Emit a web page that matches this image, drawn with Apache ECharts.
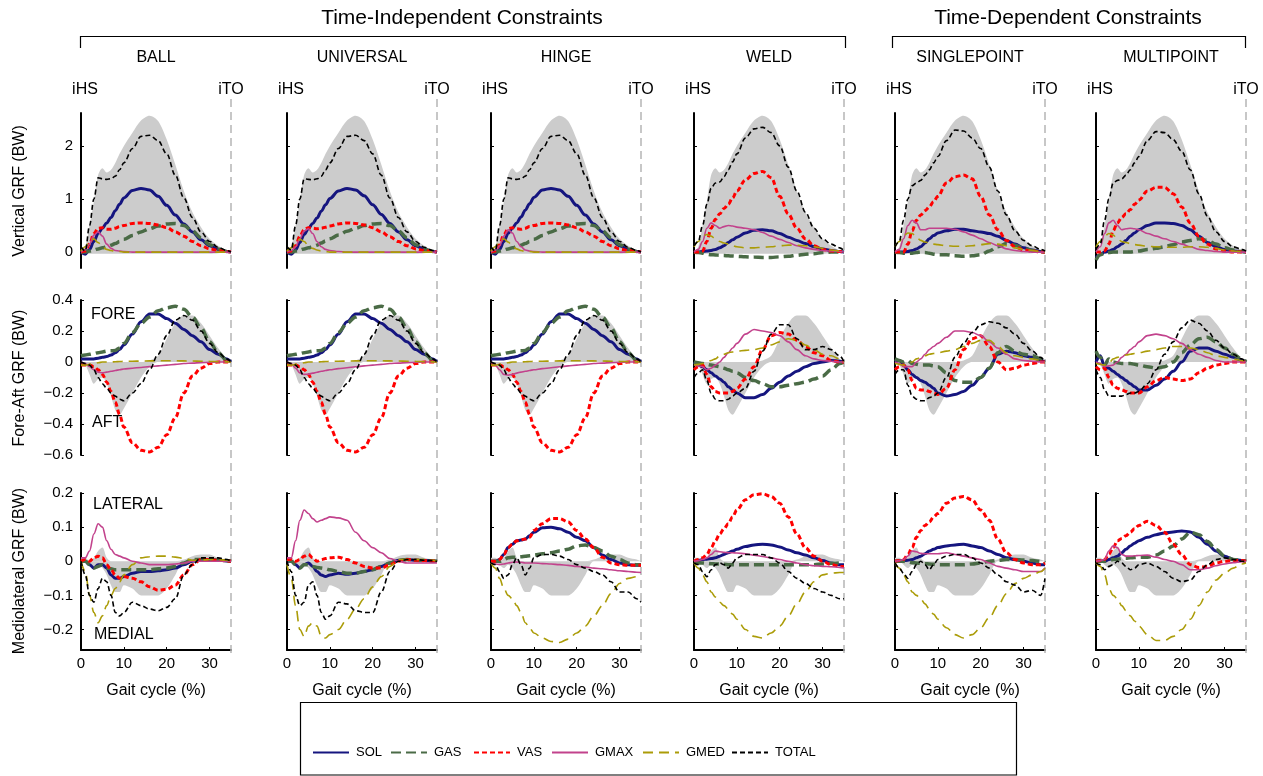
<!DOCTYPE html>
<html>
<head>
<meta charset="utf-8">
<script src="https://cdn.jsdelivr.net/npm/echarts@6/dist/echarts.min.js"></script>
<style>
html,body{margin:0;padding:0;background:#fff;}
#main{width:1263px;height:776px;}
</style>
</head>
<body>
<div id="main"></div>
<script>
// gait cycle samples (%), same for every curve
var gait = [0,1,2,3,4,5, 6,7,8,9,10,12, 14,16,18,20,22,24, 26,28,30,32,34,35];

var columns = ['BALL','UNIVERSAL','HINGE','WELD','SINGLEPOINT','MULTIPOINT'];
var muscles = ['SOL','GAS','VAS','GMAX','GMED','TOTAL'];

// ---------- vertical GRF (BW) ----------
var bandVertLo = [0,-0.02,-0.03,-0.03,-0.03,-0.03, -0.03,-0.03,-0.03,-0.03,-0.03,-0.03, -0.03,-0.03,-0.03,-0.03,-0.03,-0.03, -0.03,-0.03,-0.03,-0.02,-0.01,0];
var bandVertHi = [0,0.1,0.5,0.95,1.45,1.58, 1.5,1.55,1.68,1.85,2.0,2.25, 2.48,2.57,2.47,2.12,1.65,1.15, 0.75,0.47,0.25,0.12,0.03,0];

var vBallSol   = [0,-0.04,0.05,0.2,0.35,0.45, 0.55,0.65,0.78,0.9,1.02,1.16, 1.2,1.17,1.05,0.88,0.7,0.53, 0.38,0.23,0.12,0.05,0.01,0];
var vBallGas   = [0,0,0.02,0.04,0.06,0.08, 0.1,0.13,0.16,0.2,0.24,0.31, 0.38,0.44,0.49,0.53,0.54,0.5, 0.4,0.27,0.14,0.06,0.01,0];
var vBallVas   = [0,0.02,0.15,0.35,0.45,0.46, 0.43,0.43,0.45,0.48,0.5,0.54, 0.55,0.54,0.51,0.46,0.38,0.3, 0.2,0.12,0.06,0.03,0.01,0];
var vBallGmax  = [0,0.05,0.15,0.32,0.38,0.3, 0.15,0.07,0.03,0.02,0.01,0, 0,0,0,0,0,0, 0,0,0,0,0,0];
var vBallGmed  = [0.02,0.1,0.2,0.25,0.18,0.1, 0.05,0.03,0.01,0.01,0,0, 0,0,0,0,0,0, 0,0,0,0,0,0];
var vBallTotal = [0.1,0.02,0.5,1.0,1.4,1.38, 1.37,1.38,1.43,1.55,1.68,1.95, 2.18,2.2,2.1,1.85,1.45,1.02, 0.65,0.38,0.2,0.09,0.03,0];

var vUnivSol   = [0,-0.04,0.04,0.18,0.33,0.44, 0.54,0.64,0.77,0.89,1.01,1.15, 1.2,1.17,1.06,0.89,0.71,0.54, 0.38,0.23,0.12,0.05,0.01,0];
var vUnivGas   = [0,0,0.02,0.04,0.06,0.08, 0.1,0.13,0.17,0.21,0.25,0.32, 0.39,0.45,0.5,0.53,0.54,0.5, 0.4,0.27,0.14,0.06,0.01,0];
var vUnivVas   = [0,0.02,0.12,0.3,0.42,0.46, 0.45,0.44,0.45,0.47,0.49,0.53, 0.55,0.54,0.51,0.46,0.38,0.29, 0.2,0.12,0.06,0.03,0.01,0];
var vUnivGmax  = [0,0.03,0.1,0.25,0.4,0.44, 0.35,0.2,0.1,0.05,0.03,0.01, 0,0,0,0,0,0, 0,0,0,0,0,0];
var vUnivGmed  = [0.02,0.08,0.18,0.24,0.2,0.12, 0.07,0.04,0.02,0.01,0,0, 0,0,0,0,0,0, 0,0,0,0,0,0];
var vUnivTotal = [0.1,0.04,0.5,1.0,1.38,1.37, 1.36,1.38,1.43,1.55,1.68,1.95, 2.18,2.2,2.1,1.85,1.45,1.02, 0.65,0.38,0.2,0.09,0.03,0];

var vHingSol   = [0,-0.04,0.05,0.2,0.35,0.45, 0.55,0.66,0.79,0.91,1.03,1.17, 1.2,1.17,1.05,0.88,0.7,0.53, 0.38,0.23,0.12,0.05,0.01,0];
var vHingGas   = [0,0,0.02,0.04,0.06,0.08, 0.1,0.13,0.16,0.2,0.24,0.31, 0.38,0.44,0.49,0.53,0.54,0.5, 0.4,0.27,0.14,0.06,0.01,0];
var vHingVas   = [0,0.02,0.14,0.33,0.44,0.46, 0.44,0.43,0.45,0.48,0.5,0.54, 0.55,0.54,0.51,0.46,0.38,0.3, 0.2,0.12,0.06,0.03,0.01,0];
var vHingGmax  = [0,0.04,0.12,0.3,0.42,0.36, 0.2,0.1,0.04,0.02,0.01,0, 0,0,0,0,0,0, 0,0,0,0,0,0];
var vHingGmed  = [0.02,0.1,0.2,0.25,0.19,0.11, 0.06,0.03,0.01,0.01,0,0, 0,0,0,0,0,0, 0,0,0,0,0,0];
var vHingTotal = [0.1,0.02,0.5,1.0,1.4,1.38, 1.37,1.38,1.43,1.55,1.68,1.95, 2.18,2.2,2.1,1.85,1.45,1.02, 0.65,0.38,0.2,0.09,0.03,0];

var vWeldSol   = [0,0,0.01,0.02,0.03,0.05, 0.08,0.12,0.18,0.23,0.28,0.36, 0.41,0.42,0.4,0.35,0.28,0.22, 0.16,0.1,0.06,0.03,0.01,0];
var vWeldGas   = [0,-0.01,-0.02,-0.04,-0.05,-0.055, -0.06,-0.065,-0.07,-0.075,-0.08,-0.09, -0.095,-0.1,-0.1,-0.09,-0.08,-0.06, -0.04,-0.03,-0.01,0,0,0];
var vWeldVas   = [0,0,0.02,0.2,0.45,0.62, 0.72,0.82,0.9,1.02,1.15,1.36, 1.48,1.52,1.4,1.05,0.72,0.45, 0.25,0.12,0.05,0.02,0.01,0];
var vWeldGmax  = [0,0.05,0.2,0.45,0.55,0.5, 0.45,0.48,0.5,0.49,0.47,0.45, 0.42,0.37,0.3,0.24,0.18,0.12, 0.08,0.05,0.03,0.02,0.01,0];
var vWeldGmed  = [0.1,0.2,0.3,0.33,0.3,0.25, 0.2,0.17,0.15,0.12,0.1,0.08, 0.08,0.09,0.1,0.12,0.13,0.13, 0.12,0.1,0.07,0.04,0.02,0];
var vWeldTotal = [0.12,0.2,0.5,0.9,1.2,1.3, 1.32,1.42,1.55,1.7,1.85,2.15, 2.32,2.35,2.25,2.0,1.6,1.15, 0.75,0.45,0.25,0.15,0.08,0.03];

var vSingSol   = [0,0,0,0.01,0.03,0.06, 0.1,0.17,0.25,0.31,0.36,0.4, 0.43,0.43,0.4,0.38,0.35,0.3, 0.22,0.15,0.08,0.04,0.01,0];
var vSingGas   = [0,-0.01,-0.02,-0.02,-0.02,-0.01, 0,-0.01,-0.02,-0.04,-0.05,-0.05, -0.07,-0.08,-0.07,-0.05,0.02,0.1, 0.16,0.13,0.07,0.03,0.01,0];
var vSingVas   = [0,0,0,0.15,0.4,0.6, 0.7,0.78,0.85,0.95,1.05,1.3, 1.42,1.45,1.38,1.05,0.7,0.42, 0.22,0.1,0.04,0.02,0,0];
var vSingGmax  = [0,0.05,0.25,0.5,0.6,0.55, 0.42,0.42,0.45,0.45,0.45,0.45, 0.43,0.38,0.32,0.25,0.18,0.12, 0.06,0.03,0.01,0,0,0];
var vSingGmed  = [0.1,0.2,0.3,0.36,0.35,0.28, 0.22,0.19,0.17,0.15,0.14,0.12, 0.11,0.11,0.12,0.14,0.16,0.15, 0.12,0.08,0.05,0.03,0.01,0];
var vSingTotal = [0.1,0.2,0.6,1.0,1.25,1.3, 1.35,1.45,1.55,1.68,1.8,2.1, 2.3,2.28,2.15,1.95,1.6,1.15, 0.7,0.4,0.22,0.12,0.05,0.02];

var vMultSol   = [-0.1,-0.05,0,0.02,0.05,0.1, 0.15,0.22,0.3,0.36,0.42,0.5, 0.55,0.55,0.54,0.5,0.42,0.3, 0.18,0.1,0.05,0.02,0.01,0];
var vMultGas   = [-0.15,-0.05,-0.02,-0.01,0,0, 0,0,0,0.01,0.02,0.05, 0.07,0.1,0.14,0.19,0.22,0.25, 0.22,0.15,0.08,0.04,0.01,0];
var vMultVas   = [0,0,0.02,0.15,0.4,0.55, 0.65,0.72,0.8,0.9,0.98,1.15, 1.22,1.22,1.1,0.85,0.55,0.3, 0.15,0.06,0.02,0,0,0];
var vMultGmax  = [0,0.1,0.35,0.55,0.6,0.5, 0.42,0.44,0.45,0.44,0.42,0.35, 0.3,0.25,0.2,0.15,0.1,0.05, 0.03,0.01,0,0,0,0];
var vMultGmed  = [0.1,0.2,0.3,0.35,0.32,0.25, 0.2,0.18,0.16,0.14,0.13,0.11, 0.1,0.09,0.09,0.09,0.1,0.1, 0.09,0.07,0.04,0.02,0.01,0];
var vMultTotal = [0.05,0.15,0.6,1.0,1.3,1.35, 1.38,1.45,1.55,1.68,1.8,2.1, 2.27,2.25,2.12,1.9,1.55,1.1, 0.68,0.38,0.2,0.1,0.05,0.02];

// ---------- fore-aft GRF (BW) ----------
var bandFaLo = [0,-0.02,-0.08,-0.14,-0.11,-0.1, -0.14,-0.22,-0.31,-0.34,-0.3,-0.2, -0.1,-0.03,0,0,0,0, 0,0,0,0,0,0];
var bandFaHi = [0,0,0,0,0,0, 0,0,0,0,0,0, 0,0.01,0.04,0.15,0.25,0.3, 0.3,0.25,0.17,0.09,0.02,0];

var fBallSol   = [0.02,0.02,0.02,0.02,0.025,0.03, 0.035,0.045,0.06,0.08,0.11,0.18, 0.26,0.31,0.31,0.28,0.25,0.21, 0.17,0.13,0.08,0.05,0.02,0];
var fBallGas   = [0.04,0.045,0.05,0.055,0.06,0.065, 0.07,0.072,0.075,0.09,0.12,0.19, 0.25,0.29,0.33,0.35,0.36,0.34, 0.29,0.22,0.13,0.06,0.01,0];
var fBallVas   = [-0.02,-0.02,-0.02,-0.03,-0.05,-0.08, -0.13,-0.19,-0.26,-0.34,-0.42,-0.52, -0.57,-0.58,-0.55,-0.47,-0.36,-0.2, -0.09,-0.04,-0.01,0,0,0];
var fBallGmax  = [0,-0.01,-0.03,-0.05,-0.065,-0.07, -0.065,-0.06,-0.055,-0.05,-0.045,-0.04, -0.035,-0.03,-0.025,-0.02,-0.015,-0.01, -0.007,-0.004,-0.002,0,0,0];
var fBallGmed  = [-0.02,-0.02,-0.015,-0.01,-0.005,0, 0,0,0.002,0.003,0.004,0.005, 0.006,0.007,0.008,0.008,0.008,0.007, 0.006,0.005,0.004,0.002,0.001,0];
var fBallTotal = [0,-0.01,-0.02,-0.05,-0.1,-0.14, -0.17,-0.2,-0.22,-0.24,-0.25,-0.2, -0.14,-0.05,0.05,0.17,0.27,0.3, 0.27,0.2,0.12,0.06,0.02,0];

var fUnivSol   = [0.02,0.02,0.02,0.02,0.025,0.03, 0.035,0.045,0.06,0.08,0.11,0.18, 0.26,0.31,0.31,0.28,0.25,0.21, 0.17,0.13,0.08,0.05,0.02,0];
var fUnivGas   = [0.04,0.045,0.05,0.055,0.06,0.065, 0.07,0.072,0.075,0.09,0.12,0.19, 0.25,0.29,0.33,0.35,0.36,0.34, 0.29,0.22,0.13,0.06,0.01,0];
var fUnivVas   = [-0.02,-0.02,-0.02,-0.03,-0.05,-0.08, -0.13,-0.19,-0.26,-0.34,-0.42,-0.52, -0.57,-0.58,-0.55,-0.47,-0.36,-0.2, -0.09,-0.04,-0.01,0,0,0];
var fUnivGmax  = [0,-0.01,-0.04,-0.07,-0.08,-0.078, -0.072,-0.066,-0.06,-0.055,-0.05,-0.043, -0.037,-0.031,-0.025,-0.02,-0.015,-0.01, -0.007,-0.004,-0.002,0,0,0];
var fUnivGmed  = [-0.02,-0.02,-0.015,-0.01,-0.005,0, 0,0,0.002,0.003,0.004,0.005, 0.006,0.007,0.008,0.008,0.008,0.007, 0.006,0.005,0.004,0.002,0.001,0];
var fUnivTotal = [0,-0.01,-0.02,-0.05,-0.1,-0.14, -0.17,-0.2,-0.22,-0.24,-0.25,-0.2, -0.14,-0.05,0.05,0.17,0.27,0.3, 0.27,0.2,0.12,0.06,0.02,0];

var fHingSol   = [0.02,0.02,0.02,0.02,0.025,0.03, 0.035,0.045,0.06,0.08,0.11,0.18, 0.26,0.31,0.31,0.28,0.25,0.21, 0.17,0.13,0.08,0.05,0.02,0];
var fHingGas   = [0.04,0.045,0.05,0.055,0.06,0.065, 0.07,0.072,0.075,0.09,0.12,0.19, 0.25,0.29,0.33,0.35,0.36,0.34, 0.29,0.22,0.13,0.06,0.01,0];
var fHingVas   = [-0.02,-0.02,-0.02,-0.03,-0.05,-0.08, -0.13,-0.19,-0.26,-0.34,-0.42,-0.52, -0.57,-0.58,-0.55,-0.47,-0.36,-0.2, -0.09,-0.04,-0.01,0,0,0];
var fHingGmax  = [0,-0.02,-0.05,-0.08,-0.085,-0.08, -0.072,-0.065,-0.06,-0.055,-0.05,-0.043, -0.037,-0.031,-0.025,-0.02,-0.015,-0.01, -0.007,-0.004,-0.002,0,0,0];
var fHingGmed  = [-0.02,-0.02,-0.015,-0.01,-0.005,0, 0,0,0.002,0.003,0.004,0.005, 0.006,0.007,0.008,0.008,0.008,0.007, 0.006,0.005,0.004,0.002,0.001,0];
var fHingTotal = [0,-0.01,-0.02,-0.05,-0.1,-0.14, -0.17,-0.2,-0.22,-0.24,-0.25,-0.2, -0.14,-0.05,0.05,0.17,0.27,0.3, 0.27,0.2,0.12,0.06,0.02,0];

var fWeldSol   = [0,-0.02,-0.03,-0.05,-0.07,-0.09, -0.11,-0.13,-0.16,-0.18,-0.2,-0.23, -0.23,-0.21,-0.17,-0.13,-0.09,-0.06, -0.03,-0.01,0,0.01,0.005,0];
var fWeldGas   = [0,-0.005,-0.01,-0.015,-0.02,-0.025, -0.03,-0.04,-0.05,-0.06,-0.07,-0.1, -0.12,-0.14,-0.16,-0.16,-0.15,-0.14, -0.13,-0.11,-0.09,-0.05,-0.01,0];
var fWeldVas   = [-0.05,-0.03,-0.02,-0.08,-0.16,-0.19, -0.2,-0.2,-0.2,-0.19,-0.17,-0.11, -0.03,0.08,0.17,0.19,0.18,0.14, 0.1,0.06,0.04,0.01,0,0];
var fWeldGmax  = [-0.02,-0.025,-0.03,-0.05,-0.04,-0.02, 0,0.03,0.06,0.09,0.12,0.18, 0.21,0.2,0.19,0.17,0.13,0.08, 0.04,0.02,0.01,0.005,0,0];
var fWeldGmed  = [-0.02,-0.015,-0.01,0,0.01,0.02, 0.04,0.05,0.06,0.065,0.07,0.075, 0.08,0.09,0.11,0.13,0.15,0.14, 0.11,0.08,0.05,0.04,0.02,0];
var fWeldTotal = [-0.1,-0.07,-0.05,-0.12,-0.2,-0.24, -0.25,-0.25,-0.24,-0.22,-0.2,-0.17, -0.06,0.07,0.18,0.24,0.24,0.15, 0.08,0.08,0.1,0.08,0.04,0];

var fSingSol   = [0,0.01,-0.02,-0.05,-0.08,-0.1, -0.12,-0.13,-0.15,-0.17,-0.2,-0.22, -0.21,-0.19,-0.15,-0.1,-0.04,0.05, 0.07,0.06,0.04,0.03,0.01,0];
var fSingGas   = [0.02,0.01,0,0.01,-0.01,-0.015, -0.02,-0.02,-0.02,-0.025,-0.03,-0.07, -0.12,-0.13,-0.13,-0.1,-0.04,0.06, 0.1,0.07,0.05,0.04,0.02,0];
var fSingVas   = [-0.05,-0.03,-0.02,-0.05,-0.12,-0.17, -0.18,-0.18,-0.19,-0.2,-0.21,-0.17, -0.05,0.08,0.15,0.17,0.1,0, -0.05,-0.04,-0.02,-0.01,0,0];
var fSingGmax  = [0,-0.01,-0.03,-0.03,-0.03,0, 0.02,0.05,0.08,0.1,0.12,0.16, 0.2,0.2,0.19,0.17,0.13,0.09, 0.05,0.02,0.01,0.005,0,0];
var fSingGmed  = [-0.01,-0.015,-0.02,-0.01,0,0.02, 0.03,0.04,0.05,0.055,0.06,0.07, 0.08,0.1,0.12,0.14,0.14,0.1, 0.06,0.04,0.03,0.02,0.01,0];
var fSingTotal = [-0.08,-0.05,-0.05,-0.15,-0.22,-0.24, -0.25,-0.25,-0.23,-0.22,-0.2,-0.1, 0.03,0.12,0.19,0.24,0.26,0.25, 0.22,0.18,0.12,0.07,0.03,0];

var fMultSol   = [0,0.04,-0.03,-0.04,-0.06,-0.08, -0.1,-0.12,-0.14,-0.16,-0.18,-0.18, -0.15,-0.11,-0.06,0,0.07,0.09, 0.09,0.07,0.05,0.03,0.01,0];
var fMultGas   = [0.07,0.03,-0.02,0.02,0,-0.005, -0.01,-0.01,-0.01,-0.015,-0.02,-0.03, -0.04,-0.03,0,0.06,0.11,0.15, 0.16,0.13,0.09,0.05,0.02,0];
var fMultVas   = [-0.03,-0.05,-0.04,-0.1,-0.15,-0.17, -0.18,-0.19,-0.2,-0.2,-0.2,-0.16, -0.12,-0.1,-0.11,-0.12,-0.11,-0.07, -0.04,-0.02,-0.01,0,0,0];
var fMultGmax  = [0,-0.01,-0.03,-0.025,-0.02,0, 0.03,0.05,0.08,0.1,0.13,0.17, 0.18,0.17,0.15,0.12,0.08,0.05, 0.03,0.01,0,0,0,0];
var fMultGmed  = [-0.01,-0.015,-0.02,-0.01,0.02,0.03, 0.04,0.045,0.05,0.055,0.06,0.07, 0.08,0.09,0.1,0.1,0.09,0.08, 0.06,0.04,0.03,0.02,0.01,0];
var fMultTotal = [-0.05,-0.1,-0.18,-0.22,-0.22,-0.22, -0.22,-0.21,-0.2,-0.2,-0.19,-0.14, -0.05,0.05,0.13,0.22,0.27,0.25, 0.2,0.14,0.09,0.05,0.02,0];

// ---------- mediolateral GRF (BW) ----------
var bandMlLo = [0,0,-0.01,-0.02,-0.01,-0.02, -0.04,-0.07,-0.09,-0.09,-0.07,-0.08, -0.1,-0.1,-0.1,-0.08,-0.04,0, 0,0,0,0,0,0];
var bandMlHi = [0.01,0.01,0,0.01,0.03,0.04, 0.01,0,0,0,0,0, 0,0,0,0,0,0.005, 0.015,0.02,0.02,0.01,0.005,0];

var mBallSol   = [0,0,-0.01,-0.02,-0.01,-0.01, -0.02,-0.04,-0.05,-0.05,-0.045,-0.035, -0.03,-0.03,-0.028,-0.025,-0.02,-0.01, 0,0.005,0.005,0.003,0.001,0];
var mBallGas   = [0,0,-0.01,-0.02,-0.015,-0.01, -0.02,-0.022,-0.025,-0.025,-0.025,-0.025, -0.025,-0.025,-0.022,-0.02,-0.015,-0.005, 0.005,0.005,0.005,0.004,0.002,0];
var mBallVas   = [0,0.005,0,0.01,0.015,0.01, -0.01,-0.025,-0.04,-0.05,-0.045,-0.05, -0.06,-0.075,-0.085,-0.082,-0.07,-0.04, -0.01,0.005,0.005,0.003,0.001,0];
var mBallGmax  = [0.01,0.01,0.03,0.08,0.11,0.1, 0.06,0.035,0.02,0.015,0.01,0, -0.005,-0.01,-0.01,-0.01,-0.008,-0.005, 0,0,0,0,0,0];
var mBallGmed  = [0,-0.03,-0.1,-0.15,-0.18,-0.16, -0.13,-0.1,-0.08,-0.06,-0.04,-0.01, 0.01,0.013,0.015,0.015,0.012,0.008, 0.003,0.003,0.005,0.005,0.003,0];
var mBallTotal = [0,-0.04,-0.1,-0.12,-0.08,-0.05, -0.06,-0.1,-0.15,-0.16,-0.15,-0.12, -0.13,-0.14,-0.145,-0.135,-0.11,-0.04, -0.01,0.01,0.01,0.01,0.005,0];

var mUnivSol   = [0,0,-0.01,-0.02,-0.01,-0.005, -0.015,-0.03,-0.04,-0.045,-0.04,-0.035, -0.038,-0.035,-0.03,-0.025,-0.015,-0.005, 0.003,0.005,0.003,0.002,0.001,0];
var mUnivGas   = [0.005,0,-0.01,-0.02,-0.01,-0.01, -0.015,-0.018,-0.02,-0.022,-0.025,-0.03, -0.035,-0.035,-0.03,-0.025,-0.015,-0.005, 0.003,0.005,0.003,0.002,0.001,0];
var mUnivVas   = [0.005,0.005,0,0.005,0.015,0.02, 0.01,0,0.005,0.008,0.01,0.012, 0.005,-0.005,-0.015,-0.02,-0.02,-0.01, 0,0.005,0.003,0.002,0.001,0];
var mUnivGmax  = [0.01,0.01,0.06,0.12,0.15,0.14, 0.125,0.115,0.12,0.125,0.13,0.127, 0.12,0.085,0.06,0.04,0.025,0.008, 0,-0.005,-0.005,-0.005,-0.005,-0.005];
var mUnivGmed  = [-0.01,-0.05,-0.13,-0.2,-0.22,-0.19, -0.18,-0.19,-0.22,-0.225,-0.215,-0.2, -0.17,-0.14,-0.11,-0.075,-0.045,-0.015, 0.005,0.005,0.005,0.005,0.003,0];
var mUnivTotal = [0,-0.03,-0.1,-0.13,-0.12,-0.07, -0.06,-0.1,-0.15,-0.17,-0.16,-0.12, -0.125,-0.145,-0.15,-0.15,-0.09,-0.03, 0,0.005,0.005,0.003,0.002,0];

var mHingSol   = [0,0,0.005,0.02,0.04,0.05, 0.06,0.062,0.065,0.075,0.085,0.098, 0.1,0.095,0.085,0.07,0.06,0.04, 0.018,0.005,-0.005,-0.01,-0.012,-0.012];
var mHingGas   = [0,0,0,0.005,0.01,0.012, 0.012,0.013,0.015,0.016,0.018,0.022, 0.025,0.03,0.035,0.045,0.048,0.04, 0.03,0.015,0.005,-0.005,-0.01,-0.01];
var mHingVas   = [0,0,0.005,0.02,0.04,0.05, 0.06,0.063,0.065,0.07,0.09,0.11, 0.125,0.125,0.115,0.09,0.065,0.04, 0.012,-0.005,-0.01,-0.012,-0.012,-0.012];
var mHingGmax  = [-0.005,-0.008,-0.01,-0.008,-0.005,-0.003, -0.002,-0.003,-0.005,-0.005,-0.005,-0.007, -0.008,-0.01,-0.012,-0.015,-0.017,-0.02, -0.022,-0.025,-0.028,-0.03,-0.032,-0.033];
var mHingGmed  = [-0.005,-0.02,-0.05,-0.08,-0.1,-0.11, -0.13,-0.15,-0.18,-0.195,-0.21,-0.225, -0.235,-0.238,-0.228,-0.21,-0.19,-0.16, -0.13,-0.095,-0.065,-0.05,-0.045,-0.04];
var mHingTotal = [-0.005,-0.01,-0.03,-0.05,-0.04,-0.01, 0.01,-0.01,-0.04,-0.02,0.01,0.02, 0.02,0.015,0.005,-0.01,-0.02,-0.03, -0.04,-0.06,-0.09,-0.09,-0.11,-0.12];

var mWeldSol   = [0,0.002,0.005,0.006,0.008,0.01, 0.015,0.02,0.025,0.03,0.035,0.043, 0.048,0.05,0.048,0.042,0.033,0.025, 0.018,0.01,0.002,-0.005,-0.01,-0.01];
var mWeldGas   = [-0.005,-0.005,-0.005,-0.006,-0.007,-0.008, -0.008,-0.009,-0.01,-0.01,-0.01,-0.01, -0.01,-0.01,-0.01,-0.01,-0.01,-0.01, -0.01,-0.01,-0.008,-0.006,-0.005,-0.005];
var mWeldVas   = [0,0.005,0.01,0.02,0.04,0.06, 0.08,0.095,0.11,0.13,0.15,0.18, 0.195,0.198,0.19,0.17,0.13,0.08, 0.04,0.015,0,-0.01,-0.015,-0.015];
var mWeldGmax  = [0,0.002,0.005,0.01,0.02,0.03, 0.028,0.026,0.025,0.025,0.024,0.022, 0.018,0.014,0.01,0.005,0,-0.005, -0.01,-0.013,-0.015,-0.016,-0.018,-0.02];
var mWeldGmed  = [-0.005,-0.02,-0.04,-0.06,-0.09,-0.105, -0.12,-0.13,-0.14,-0.155,-0.17,-0.2, -0.22,-0.225,-0.21,-0.19,-0.16,-0.125, -0.09,-0.06,-0.04,-0.035,-0.033,-0.033];
var mWeldTotal = [-0.005,-0.01,-0.03,-0.045,-0.025,-0.01, -0.005,-0.01,-0.02,-0.005,0.01,0.02, 0.02,0.02,0.01,-0.005,-0.03,-0.05, -0.065,-0.08,-0.09,-0.1,-0.11,-0.11];

var mSingSol   = [0,0.001,0.002,0.003,0.005,0.01, 0.015,0.022,0.03,0.035,0.04,0.045, 0.048,0.05,0.045,0.04,0.03,0.02, 0.01,0.005,0,-0.005,-0.01,-0.01];
var mSingGas   = [0,0,0,-0.002,-0.004,-0.005, -0.006,-0.007,-0.008,-0.009,-0.01,-0.01, -0.01,-0.01,-0.008,-0.005,0,0.003, 0.005,0.005,0.004,0.002,0,-0.005];
var mSingVas   = [0,0.002,0.005,0.02,0.04,0.07, 0.09,0.105,0.115,0.13,0.14,0.17, 0.185,0.19,0.18,0.15,0.12,0.065, 0.025,0.005,-0.005,-0.01,-0.01,-0.005];
var mSingGmax  = [0,0.002,0.005,0.015,0.03,0.028, 0.023,0.022,0.022,0.022,0.022,0.025, 0.02,0.015,0.01,0.005,-0.005,-0.015, -0.02,-0.025,-0.03,-0.03,-0.03,-0.02];
var mSingGmed  = [-0.005,-0.02,-0.04,-0.06,-0.09,-0.1, -0.11,-0.125,-0.14,-0.155,-0.17,-0.195, -0.215,-0.225,-0.215,-0.195,-0.165,-0.13, -0.095,-0.065,-0.05,-0.04,-0.03,-0.02];
var mSingTotal = [-0.005,-0.02,-0.035,-0.05,-0.03,-0.01, 0,-0.01,-0.025,-0.01,0.005,0.015, 0.02,0.02,0.01,-0.005,-0.02,-0.04, -0.06,-0.07,-0.09,-0.085,-0.1,-0.05];

var mMultSol   = [0,0,0,0.005,0.01,0.015, 0.025,0.035,0.045,0.053,0.06,0.07, 0.078,0.083,0.086,0.089,0.086,0.07, 0.05,0.03,0.015,0.005,0.002,0];
var mMultGas   = [0,0,0,0.002,0.005,0.006, 0.008,0.009,0.01,0.011,0.012,0.012, 0.018,0.03,0.045,0.065,0.085,0.078, 0.058,0.035,0.015,0.005,0.002,0];
var mMultVas   = [0,0.002,0.005,0.02,0.04,0.06, 0.067,0.075,0.085,0.095,0.105,0.117, 0.105,0.085,0.05,0.02,-0.01,-0.018, -0.015,-0.005,0,0.002,0.002,0];
var mMultGmax  = [0,0.002,0.005,0.03,0.045,0.04, 0.02,0.015,0.015,0.016,0.017,0.018, 0.012,0.005,0,-0.01,-0.025,-0.025, -0.02,-0.013,-0.008,-0.004,-0.001,0];
var mMultGmed  = [-0.005,-0.015,-0.04,-0.08,-0.1,-0.11, -0.13,-0.145,-0.16,-0.175,-0.19,-0.215, -0.232,-0.232,-0.22,-0.2,-0.17,-0.13, -0.09,-0.055,-0.035,-0.02,-0.008,-0.005];
var mMultTotal = [-0.005,-0.01,-0.025,-0.015,-0.01,0, -0.005,-0.015,-0.025,-0.02,-0.01,-0.005, -0.015,-0.03,-0.05,-0.06,-0.055,-0.03, -0.01,0.005,0.01,0.005,0,0];

// rows of panels -> columns -> muscles
var rows = [
  [[vBallSol,vBallGas,vBallVas,vBallGmax,vBallGmed,vBallTotal],
   [vUnivSol,vUnivGas,vUnivVas,vUnivGmax,vUnivGmed,vUnivTotal],
   [vHingSol,vHingGas,vHingVas,vHingGmax,vHingGmed,vHingTotal],
   [vWeldSol,vWeldGas,vWeldVas,vWeldGmax,vWeldGmed,vWeldTotal],
   [vSingSol,vSingGas,vSingVas,vSingGmax,vSingGmed,vSingTotal],
   [vMultSol,vMultGas,vMultVas,vMultGmax,vMultGmed,vMultTotal]],
  [[fBallSol,fBallGas,fBallVas,fBallGmax,fBallGmed,fBallTotal],
   [fUnivSol,fUnivGas,fUnivVas,fUnivGmax,fUnivGmed,fUnivTotal],
   [fHingSol,fHingGas,fHingVas,fHingGmax,fHingGmed,fHingTotal],
   [fWeldSol,fWeldGas,fWeldVas,fWeldGmax,fWeldGmed,fWeldTotal],
   [fSingSol,fSingGas,fSingVas,fSingGmax,fSingGmed,fSingTotal],
   [fMultSol,fMultGas,fMultVas,fMultGmax,fMultGmed,fMultTotal]],
  [[mBallSol,mBallGas,mBallVas,mBallGmax,mBallGmed,mBallTotal],
   [mUnivSol,mUnivGas,mUnivVas,mUnivGmax,mUnivGmed,mUnivTotal],
   [mHingSol,mHingGas,mHingVas,mHingGmax,mHingGmed,mHingTotal],
   [mWeldSol,mWeldGas,mWeldVas,mWeldGmax,mWeldGmed,mWeldTotal],
   [mSingSol,mSingGas,mSingVas,mSingGmax,mSingGmed,mSingTotal],
   [mMultSol,mMultGas,mMultVas,mMultGmax,mMultGmed,mMultTotal]]
];
var bands = [[bandVertLo,bandVertHi],[bandFaLo,bandFaHi],[bandMlLo,bandMlHi]];

var yNames = ['Vertical GRF (BW)','Fore-Aft GRF (BW)','Mediolateral GRF (BW)'];
var yMin = [-0.3,-0.6,-0.26], yMax = [2.62,0.4,0.2];
var yTicks = [[0,1,2],[-0.6,-0.4,-0.2,0,0.2,0.4],[-0.2,-0.1,0,0.1,0.2]];
var xTicks = [0,10,20,30];

// layout
var colLeft = [81,287,491,694,895,1096], panelW = 150;
var rowTop = [113,300,493], rowH = [155,155,157];
var FONT = '"Liberation Sans", Arial, Helvetica, sans-serif';
var NARROW = '"Liberation Sans Narrow", "Liberation Sans", Arial, sans-serif';

var styles = {
  SOL:   {color:'#15157f', width:3,   type:'solid'},
  GAS:   {color:'#4a6b46', width:3.5, type:[10,5]},
  VAS:   {color:'#ff0000', width:3,   type:[5,3]},
  GMAX:  {color:'#c2428c', width:1.6, type:'solid'},
  GMED:  {color:'#ab9c08', width:1.6, type:[10,6]},
  TOTAL: {color:'#000000', width:1.6, type:[5,3]}
};

function pairs(arr){ return gait.map(function(x,i){ return [x, arr[i]]; }); }
function fmt(v){ return v < 0 ? '\u2212' + String(-v) : String(v); }

var grids = [], xAxes = [], yAxes = [], series = [];

// dashed iTO line through each column
for (var c = 0; c < 6; c++) {
  var g = grids.length;
  grids.push({left: colLeft[c], top: 97, width: panelW, height: 556});
  xAxes.push({gridIndex: g, type: 'value', min: 0, max: 35, show: false});
  yAxes.push({gridIndex: g, type: 'value', min: 0, max: 1, show: false});
  series.push({type: 'line', xAxisIndex: g, yAxisIndex: g, data: [[35,0],[35,1]], symbol: 'none', silent: true,
    lineStyle: {color: '#b4b4b4', width: 1.5, type: [8,5]}});
}

for (var r = 0; r < 3; r++) {
  for (var c = 0; c < 6; c++) {
    var g = grids.length;
    grids.push({left: colLeft[c], top: rowTop[r], width: panelW, height: rowH[r]});
    xAxes.push({
      gridIndex: g, type: 'value', min: 0, max: 35, show: r === 2,
      axisLine: {onZero: false, lineStyle: {color: '#000', width: 2}},
      axisTick: {inside: true, length: 3, customValues: xTicks, lineStyle: {color: '#000'}},
      axisLabel: {customValues: xTicks, margin: 6, fontSize: 15, color: '#000', fontFamily: FONT},
      splitLine: {show: false},
      name: 'Gait cycle (%)', nameLocation: 'middle', nameGap: 33,
      nameTextStyle: {fontSize: 16, color: '#000', fontFamily: FONT}
    });
    yAxes.push({
      gridIndex: g, type: 'value', min: yMin[r], max: yMax[r],
      axisLine: {show: true, onZero: false, lineStyle: {color: '#000', width: 2}},
      axisTick: {show: true, inside: true, length: 3, customValues: yTicks[r], lineStyle: {color: '#000'}},
      axisLabel: {show: c === 0, customValues: yTicks[r], formatter: fmt, margin: 8, fontSize: 15, color: '#000', fontFamily: FONT},
      splitLine: {show: false}
    });
    // grey band (experimental range), both halves filled to zero
    [bands[r][0], bands[r][1]].forEach(function(b){
      series.push({type: 'line', xAxisIndex: g, yAxisIndex: g, data: pairs(b), symbol: 'none', silent: true,
        smooth: 0.3, lineStyle: {width: 0, opacity: 0}, areaStyle: {color: '#cccccc', opacity: 1, origin: 0}, z: 1});
    });
    muscles.forEach(function(m, k){
      var s = styles[m];
      series.push({name: m, type: 'line', xAxisIndex: g, yAxisIndex: g, data: pairs(rows[r][c][k]),
        symbol: 'none', smooth: 0.35, smoothMonotone: 'x', silent: true, z: 3,
        lineStyle: {color: s.color, width: s.width, type: s.type}, itemStyle: {color: s.color}});
    });
  }
}

// texts and brackets
var graphics = [
  {type: 'text', x: 462, y: 18, style: {text: 'Time-Independent Constraints', fontSize: 21, fontFamily: FONT, fill: '#000', align: 'center', verticalAlign: 'middle'}},
  {type: 'text', x: 1068, y: 18, style: {text: 'Time-Dependent Constraints', fontSize: 21, fontFamily: FONT, fill: '#000', align: 'center', verticalAlign: 'middle'}},
  {type: 'polyline', shape: {points: [[80.5,48],[80.5,36.5],[845.5,36.5],[845.5,48]]}, style: {stroke: '#000', fill: null, lineWidth: 1.2}},
  {type: 'polyline', shape: {points: [[892.5,48],[892.5,36.5],[1245.5,36.5],[1245.5,48]]}, style: {stroke: '#000', fill: null, lineWidth: 1.2}},
  {type: 'rect', shape: {x: 300.5, y: 702.5, width: 716, height: 72.5}, style: {stroke: '#000', fill: null, lineWidth: 1.2}},
  {type: 'text', x: 91, y: 315, style: {text: 'FORE', fontSize: 16, fontFamily: FONT, fill: '#000', verticalAlign: 'middle'}},
  {type: 'text', x: 92, y: 423, style: {text: 'AFT', fontSize: 16, fontFamily: FONT, fill: '#000', verticalAlign: 'middle'}},
  {type: 'text', x: 93, y: 505, style: {text: 'LATERAL', fontSize: 16, fontFamily: FONT, fill: '#000', verticalAlign: 'middle'}},
  {type: 'text', x: 94, y: 635, style: {text: 'MEDIAL', fontSize: 16, fontFamily: FONT, fill: '#000', verticalAlign: 'middle'}}
];
var yNameCenter = [191, 378, 571];
yNames.forEach(function(t, r){
  graphics.push({type: 'text', x: 20, y: yNameCenter[r], rotation: Math.PI / 2,
    style: {text: t, fontSize: 16, fontFamily: FONT, fill: '#000', align: 'center', verticalAlign: 'middle'}});
});
columns.forEach(function(t, c){
  graphics.push({type: 'text', x: colLeft[c] + 75, y: 58, style: {text: t, fontSize: 16, fontFamily: FONT, fill: '#000', align: 'center', verticalAlign: 'middle'}});
  graphics.push({type: 'text', x: colLeft[c] + 4, y: 90, style: {text: 'iHS', fontSize: 16, fontFamily: FONT, fill: '#000', align: 'center', verticalAlign: 'middle'}});
  graphics.push({type: 'text', x: colLeft[c] + panelW, y: 90, style: {text: 'iTO', fontSize: 16, fontFamily: FONT, fill: '#000', align: 'center', verticalAlign: 'middle'}});
});

// one legend per entry so the spacing can follow the original
var legendX = [312,390,473,551,642,731];
var legends = muscles.map(function(m, i){
  return {data: [m], left: legendX[i], top: 746, itemWidth: 36, itemHeight: 14, padding: 0,
    selectedMode: false, itemStyle: {opacity: 0},
    textStyle: {fontSize: 13, fontFamily: NARROW, color: '#000', padding: [0,0,0,2]}};
});

var chart = echarts.init(document.getElementById('main'));
chart.setOption({
  animation: false,
  backgroundColor: '#ffffff',
  grid: grids, xAxis: xAxes, yAxis: yAxes,
  legend: legends,
  graphic: graphics,
  series: series
});
</script>
</body>
</html>
